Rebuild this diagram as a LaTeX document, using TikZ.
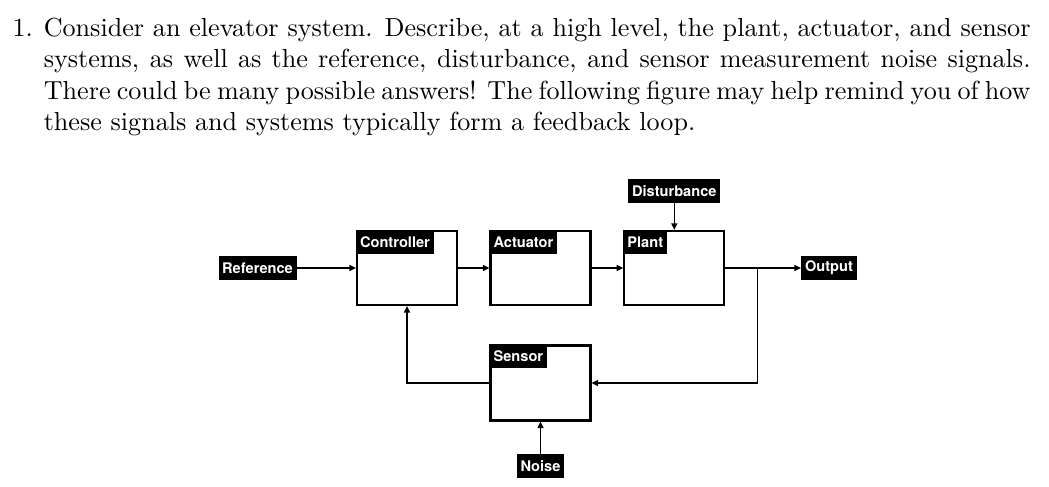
\documentclass[tikz,border=0pt]{standalone}
\usepackage{fontspec}
\usepackage{tikz}
\usetikzlibrary{arrows.meta}
\newfontfamily\tagfont{TeX Gyre Heros}
\newcommand{\pxu}{0.383pt}

\begin{document}
\begin{tikzpicture}[
    x=0.383pt, y=-0.383pt,
    >={Triangle[length=2.5pt, width=2.3pt]},
    block/.style={draw, line width=0.85pt, minimum width=100*\pxu, minimum height=74*\pxu, inner sep=0pt},
    tag/.style={fill=black, text=white, font={\tagfont\bfseries\fontsize{5.6pt}{6pt}\selectfont}, inner xsep=1.4pt, inner ysep=0pt, minimum height=9pt},
    wire/.style={->, line width=0.5pt},
]
    \useasboundingbox (0,0) rectangle (1049,487);

    % Question text
    \node[anchor=north west, inner sep=0pt] (num) at (12,14.1) {\strut 1.};
    \node[anchor=north west, inner sep=0pt, text width=986.7*\pxu, align=justify] (question) at (43.3,14.1)
        {\strut Consider an elevator system. Describe, at a high level, the plant, actuator, and sensor\linebreak
        systems, as well as the reference, disturbance, and sensor measurement noise signals.\linebreak
        There could be many possible answers! The following figure may help remind you of how\linebreak
        these signals and systems typically form a feedback loop.};

    % Forward path
    \node[tag] (ref) at (257.5,268) {Reference};
    \node[block] (ctrl) at (407,268) {};
    \node[tag, anchor=north west] (ctrltag) at (ctrl.north west) {Controller};
    \node[block] (act) at (540.5,268) {};
    \node[tag, anchor=north west] (acttag) at (act.north west) {Actuator};
    \node[block] (plant) at (674.3,268) {};
    \node[tag, anchor=north west] (planttag) at (plant.north west) {Plant};
    \node[tag] (out) at (829,268) {Output};

    % Disturbance
    \node[tag] (dist) at (674.3,191) {Disturbance};

    % Feedback path
    \node[block, minimum height=75*\pxu] (sens) at (540.5,383) {};
    \node[tag, anchor=north west] (senstag) at (sens.north west) {Sensor};
    \node[tag] (noise) at (540.5,466) {Noise};
    \coordinate (split) at (757.7,268);

    \draw[wire] (ref) -- (ctrl);
    \draw[wire] (ctrl) -- (act);
    \draw[wire] (act) -- (plant);
    \draw[wire] (plant) -- (out);
    \draw[wire] (dist) -- (plant);
    \draw[wire] (split) |- (sens);
    \draw[wire] (sens) -| (ctrl);
    \draw[wire] (noise) -- (sens);
\end{tikzpicture}
\end{document}
